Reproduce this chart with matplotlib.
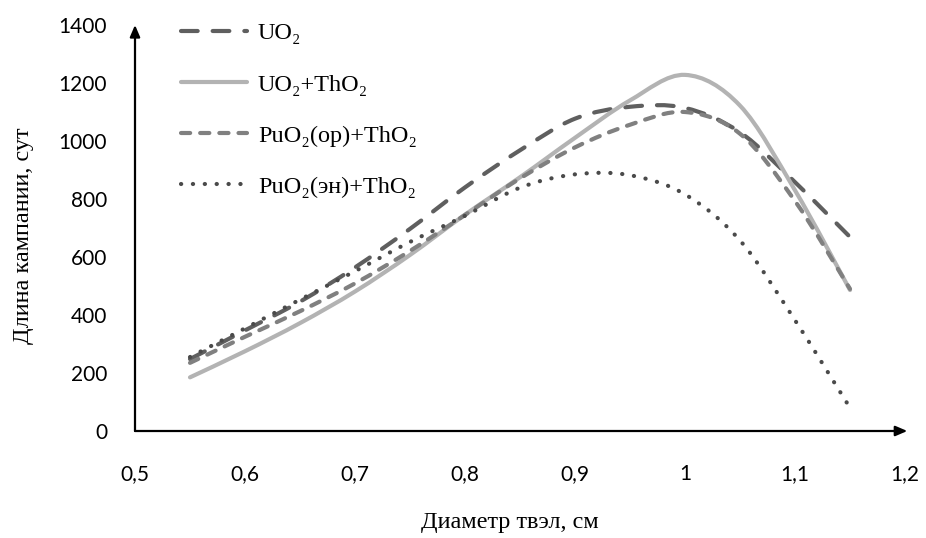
import numpy as np
import matplotlib
matplotlib.use("Agg")
import matplotlib.pyplot as plt
from matplotlib.path import Path
from matplotlib.patches import PathPatch
from matplotlib.lines import Line2D

# fuel rod diameter, cm
diameter = [0.55, 0.60, 0.65, 0.70, 0.75, 0.80, 0.85, 0.90, 0.95, 1.00, 1.05, 1.10, 1.15]

# campaign length, days
uo2 = [248, 347, 446, 564, 697, 840, 968, 1077, 1118, 1114, 1030, 858, 669]
uo2_tho2 = [185, 275, 372, 481, 607, 746, 875, 1011, 1140, 1228, 1122, 830, 486]
puo2_op_tho2 = [235, 325, 413, 509, 621, 745, 871, 978, 1056, 1100, 1025, 793, 490]
puo2_en_tho2 = [255, 354, 453, 551, 652, 742, 839, 885, 882, 816, 657, 382, 80]

labels = ["UO₂", "UO₂+ThO₂", "PuO₂(ор)+ThO₂", "PuO₂(эн)+ThO₂"]
xticks = [0.5, 0.6, 0.7, 0.8, 0.9, 1.0, 1.1, 1.2]
yticks = [0, 200, 400, 600, 800, 1000, 1200, 1400]


def smooth_path(x, y):
    # Bezier segments through the points, like a spreadsheet "smoothed line"
    x = np.asarray(x, float)
    y = np.asarray(y, float)
    pts = np.column_stack([x, y])
    n = len(pts)
    verts = [pts[0]]
    codes = [Path.MOVETO]
    for i in range(n - 1):
        p0 = pts[i - 1] if i > 0 else pts[i]
        p1 = pts[i]
        p2 = pts[i + 1]
        p3 = pts[i + 2] if i + 2 < n else pts[i + 1]
        c1 = p1 + (p2 - p0) / 6.0
        c2 = p2 - (p3 - p1) / 6.0
        verts += [c1, c2, p2]
        codes += [Path.CURVE4] * 3
    return Path(verts, codes)


series = [
    (uo2, dict(color="#5f5f5f", lw=3.0, ls=(0, (4.0, 3.6)))),
    (uo2_tho2, dict(color="#b3b3b3", lw=3.0, ls="-")),
    (puo2_op_tho2, dict(color="#808080", lw=3.0, ls=(0, (2.2, 2.4)))),
    (puo2_en_tho2, dict(color="#4a4a4a", lw=3.0, ls=(0, (0.05, 2.8)))),
]

fig = plt.figure(figsize=(9.26, 5.38), dpi=100)
ax = fig.add_axes([135 / 926, 1 - 431 / 538, 770 / 926, 406 / 538])

handles = []
for vals, st in series:
    patch = PathPatch(smooth_path(diameter, vals), facecolor="none",
                      edgecolor=st["color"], lw=st["lw"], linestyle=st["ls"],
                      capstyle="round", joinstyle="round")
    ax.add_patch(patch)
    h = Line2D([], [], color=st["color"], lw=st["lw"], linestyle=st["ls"],
               dash_capstyle="round", solid_capstyle="round")
    handles.append(h)

ax.set_xlim(0.5, 1.2)
ax.set_ylim(0, 1400)

for s in ax.spines.values():
    s.set_visible(False)

# axes drawn as arrows
ax.annotate("", xy=(1.003, 0), xytext=(0, 0), xycoords="axes fraction",
            arrowprops=dict(arrowstyle="-|>,head_length=0.7,head_width=0.3",
                            color="black", lw=1.6, shrinkA=0, shrinkB=0))
ax.annotate("", xy=(0, 1.0), xytext=(0, 0), xycoords="axes fraction",
            arrowprops=dict(arrowstyle="-|>,head_length=0.7,head_width=0.3",
                            color="black", lw=1.6, shrinkA=0, shrinkB=0))

tick_font = dict(family="Lato", size=15)
ax.set_xticks(xticks)
ax.set_xticklabels([f"{v:g}".replace(".", ",") for v in xticks], **tick_font)
ax.set_yticks(yticks)
ax.set_yticklabels([str(v) for v in yticks], **tick_font)
ax.tick_params(axis="x", length=0, pad=24)
ax.tick_params(axis="y", length=0, pad=20)

serif = dict(family="Liberation Serif", size=17.5)
ax.set_xlabel("Диаметр твэл, см", labelpad=20, **serif)
ax.xaxis.label.set_x(0.487)
ax.set_ylabel("Длина кампании, сут", labelpad=18, **serif)
ax.yaxis.label.set_y(0.48)

leg = ax.legend(handles, labels, loc="upper left", bbox_to_anchor=(162 / 926, 1 - 3 / 538),
                bbox_transform=fig.transFigure, frameon=False,
                prop=dict(family="Liberation Serif", size=17.5),
                handlelength=2.7, handletextpad=0.45, labelspacing=1.2,
                borderpad=0.3)

fig.savefig("out.png", dpi=100)
